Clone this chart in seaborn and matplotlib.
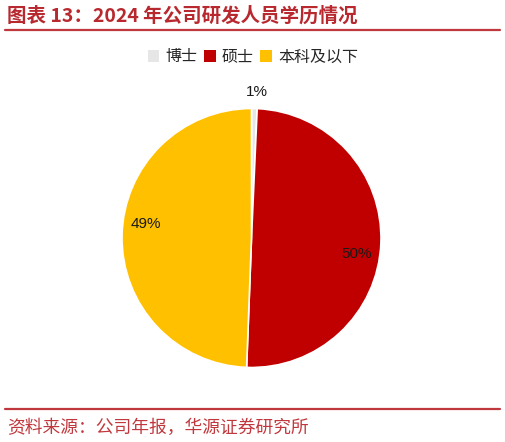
import numpy as np
import matplotlib
matplotlib.use("Agg")
import matplotlib.pyplot as plt
from matplotlib.patches import Patch
import seaborn as sns

categories = ["博士", "硕士", "本科及以下"]
values = [0.7, 49.9, 49.4]
colors = ["#E7E6E6", "#C00000", "#FFC000"]
title_text = "图表 13：2024 年公司研发人员学历情况"
source_text = "资料来源：公司年报，华源证券研究所"

sns.set_theme(style="white")
plt.rcParams["font.family"] = ["Noto Sans CJK SC", "DejaVu Sans"]

W, H = 506, 442
fig = plt.figure(figsize=(W / 100, H / 100), dpi=100)

cx, cy, r = 251.5, 238, 129.5
ax = fig.add_axes([(cx - r) / W, (H - cy - r) / H, 2 * r / W, 2 * r / H])

wedges, _ = ax.pie(values, colors=colors, startangle=90, counterclock=False,
                   radius=1, wedgeprops=dict(edgecolor="white", linewidth=1.2))
ax.set_xlim(-1, 1)
ax.set_ylim(-1, 1)
ax.set_aspect("equal")
ax.axis("off")

total = sum(values)
for w, v in zip(wedges, values):
    mid = (w.theta1 + w.theta2) / 2
    pct = 100 * v / total
    if pct < 5:
        dist, ang = 1.13, mid - 1.0
    else:
        dist, ang = 0.82, mid - 6.5
    x = dist * np.cos(np.deg2rad(ang))
    y = dist * np.sin(np.deg2rad(ang))
    ax.text(x, y, f"{pct:.0f}%", ha="center", va="center", fontsize=11,
            family=["Liberation Sans", "DejaVu Sans"], color="#1a1a1a")

handles = [Patch(facecolor=c, edgecolor="none") for c in colors]
fig.legend(handles, categories, loc="center", bbox_to_anchor=(0.5, 1 - 57 / H),
           ncol=3, frameon=False, fontsize=11.5, handlelength=0.72, handleheight=0.72,
           handletextpad=0.4, columnspacing=0.4, borderaxespad=0)

fig.text(7 / W, 1 - 16 / H, title_text, ha="left", va="center", fontsize=14,
         fontweight="bold", color="#B8292F")
fig.add_artist(plt.Line2D([5 / W, 500 / W], [1 - 30 / H, 1 - 30 / H],
                          color="#C0383D", linewidth=1.6, transform=fig.transFigure))
fig.add_artist(plt.Line2D([5 / W, 500 / W], [1 - 409 / H, 1 - 409 / H],
                          color="#C0383D", linewidth=1.6, transform=fig.transFigure))
fig.text(7 / W, 1 - 428 / H, source_text, ha="left", va="center", fontsize=12.8,
         color="#C0383D")

fig.savefig("out.png", dpi=100, facecolor="white")
